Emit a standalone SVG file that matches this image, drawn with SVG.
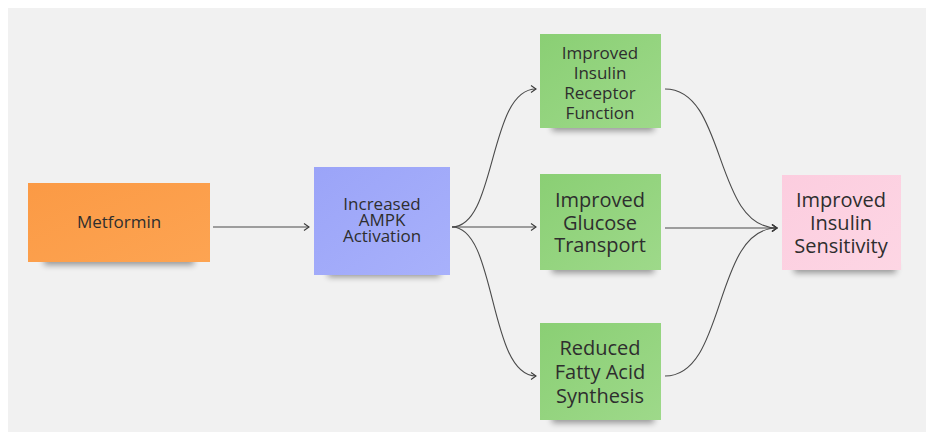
<svg xmlns="http://www.w3.org/2000/svg" width="931" height="438" viewBox="0 0 931 438">
<style>
  .t { font-family: "Open Sans", "Liberation Sans", sans-serif; fill: #2e2e2e; text-anchor: middle; dominant-baseline: central; }
  .s17 { font-size: 17px; }
  .s20 { font-size: 20px; }
  .conn { fill: none; stroke: #4a4a4a; stroke-width: 1.1; }
  .shadow { fill: #000; opacity: 0.38; filter: url(#blur); }
</style>
<defs>
  <filter id="blur" x="-20%" y="-100%" width="140%" height="300%">
    <feGaussianBlur stdDeviation="3"/>
  </filter>
  <linearGradient id="gOrange" x1="0" y1="0" x2="1" y2="1">
    <stop offset="0" stop-color="#fb9a45"/>
    <stop offset="1" stop-color="#fda452"/>
  </linearGradient>
  <linearGradient id="gBlue" x1="0" y1="0" x2="1" y2="1">
    <stop offset="0" stop-color="#9ba4f8"/>
    <stop offset="1" stop-color="#a8b1fb"/>
  </linearGradient>
  <linearGradient id="gGreen" x1="0" y1="0" x2="1" y2="1">
    <stop offset="0" stop-color="#8acf74"/>
    <stop offset="1" stop-color="#9ed98a"/>
  </linearGradient>
  <linearGradient id="gPink" x1="0" y1="0" x2="1" y2="1">
    <stop offset="0" stop-color="#fccddf"/>
    <stop offset="1" stop-color="#fdd6e4"/>
  </linearGradient>
  <marker id="arr" markerWidth="10" markerHeight="10" refX="7" refY="5" orient="auto" markerUnits="userSpaceOnUse">
    <path d="M2,1.5 L7,5 L2,8.5" fill="none" stroke="#3a3a3a" stroke-width="1.1"/>
  </marker>
</defs>

<rect x="0" y="0" width="931" height="438" fill="#ffffff"/>
<rect x="8" y="8" width="918" height="424" fill="#f1f1f1"/>

<g id="connectors">
  <path class="conn" d="M213,227 L309,227" marker-end="url(#arr)"/>
  <path class="conn" d="M452,227 C497,227 488,89 536,89" marker-end="url(#arr)"/>
  <path class="conn" d="M452,227 L536,227" marker-end="url(#arr)"/>
  <path class="conn" d="M452,227 C497,227 488,376 536,376" marker-end="url(#arr)"/>
  <path class="conn" d="M665,89 C727,89 713,228 777,228" marker-end="url(#arr)"/>
  <path class="conn" d="M665,228 L777,228" marker-end="url(#arr)"/>
  <path class="conn" d="M665,376 C727,376 713,228 777,228" marker-end="url(#arr)"/>
</g>

<g id="metformin">
  <rect class="shadow" x="44" y="255" width="150" height="10"/>
  <rect x="28" y="183" width="182" height="79" fill="url(#gOrange)"/>
  <text class="t s17" x="119" y="221">Metformin</text>
</g>

<g id="ampk">
  <rect class="shadow" x="328" y="267" width="112" height="10"/>
  <rect x="314" y="167" width="136" height="108" fill="url(#gBlue)"/>
  <text class="t s17" x="382" y="203">Increased</text>
  <text class="t s17" x="382" y="219">AMPK</text>
  <text class="t s17" x="382" y="235">Activation</text>
</g>

<g id="receptor">
  <rect class="shadow" x="552" y="121" width="102" height="10"/>
  <rect x="540" y="34" width="121" height="94" fill="url(#gGreen)"/>
  <text class="t s17" x="600" y="52">Improved</text>
  <text class="t s17" x="600" y="72">Insulin</text>
  <text class="t s17" x="600" y="92">Receptor</text>
  <text class="t s17" x="600" y="112">Function</text>
</g>

<g id="glucose">
  <rect class="shadow" x="552" y="263" width="102" height="10"/>
  <rect x="540" y="174" width="121" height="96" fill="url(#gGreen)"/>
  <text class="t s20" x="600" y="199">Improved</text>
  <text class="t s20" x="600" y="222">Glucose</text>
  <text class="t s20" x="600" y="244">Transport</text>
</g>

<g id="fatty">
  <rect class="shadow" x="552" y="413" width="102" height="10"/>
  <rect x="540" y="323" width="121" height="97" fill="url(#gGreen)"/>
  <text class="t s20" x="600" y="347">Reduced</text>
  <text class="t s20" x="600" y="371">Fatty Acid</text>
  <text class="t s20" x="600" y="395">Synthesis</text>
</g>

<g id="sensitivity">
  <rect class="shadow" x="794" y="263" width="102" height="10"/>
  <rect x="782" y="175" width="119" height="95" fill="url(#gPink)"/>
  <text class="t s20" x="841" y="199">Improved</text>
  <text class="t s20" x="841" y="222">Insulin</text>
  <text class="t s20" x="841" y="245">Sensitivity</text>
</g>
</svg>
